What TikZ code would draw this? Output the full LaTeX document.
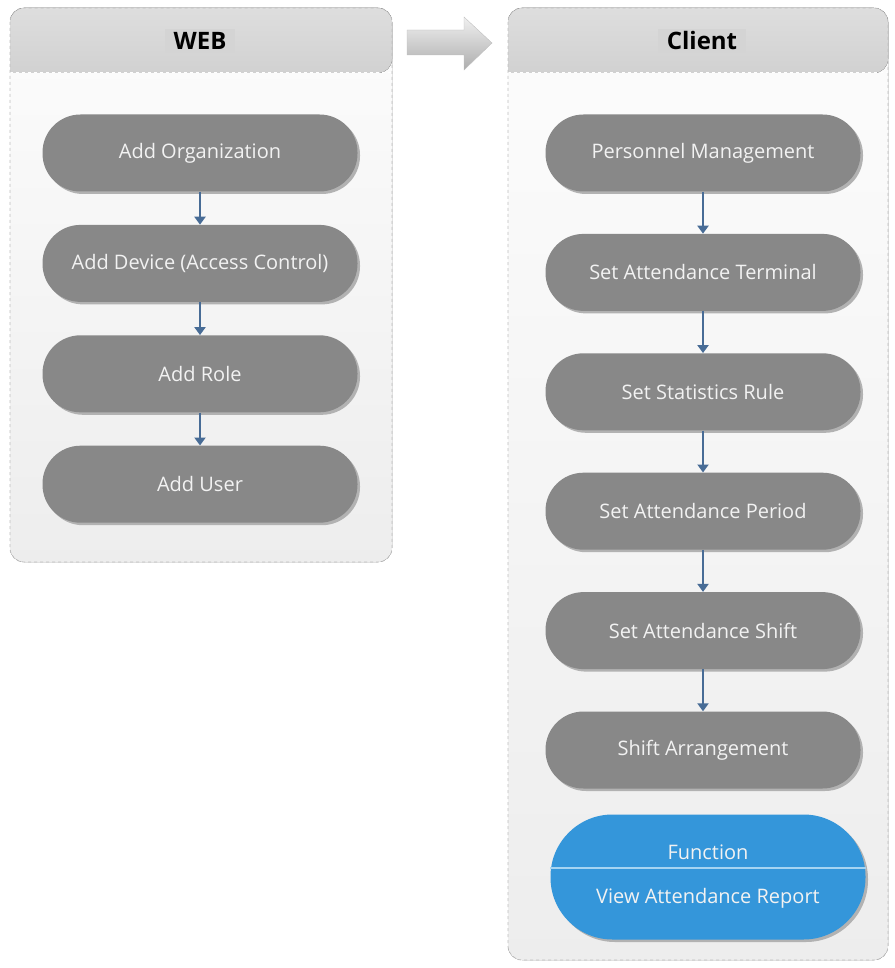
\documentclass[tikz,border=0pt]{standalone}
\usepackage{fontspec}
\setsansfont{Open Sans}
\usepackage{tikz}
\usetikzlibrary{positioning, arrows.meta, shadows}
\definecolor{pillgrey}{RGB}{136,136,136}
\definecolor{edgegrey}{RGB}{190,190,190}
\definecolor{linkblue}{RGB}{72,108,150}
\definecolor{fnblue}{RGB}{52,150,218}
\definecolor{fnline}{RGB}{165,212,242}

\begin{document}
\begin{tikzpicture}[x=1pt, y=-1pt,
        node distance=33pt,
        every node/.style={font=\sffamily},
        panel/.style={rounded corners=14pt, top color=black!1, bottom color=black!7},
        paneledge/.style={draw=edgegrey, dashed, line width=0.8pt, rounded corners=14pt},
        header/.style={top color=black!13, bottom color=black!18},
        title/.style={fill=black!17, inner xsep=9pt, inner ysep=3pt, text=black, font=\sffamily\bfseries\fontsize{24}{28}\selectfont},
        pill/.style={rectangle, fill=pillgrey, rounded corners=38pt, minimum width=315pt, minimum height=77pt, text=white!95!black, font=\sffamily\fontsize{20}{24}\selectfont, drop shadow={shadow xshift=2.5pt, shadow yshift=-2.5pt, fill=black!30, opacity=1}},
        fnpill/.style={pill, fill=fnblue, minimum height=125pt, rounded corners=62pt},
        fntext/.style={text=white!95!black, font=\sffamily\fontsize{20}{24}\selectfont},
        link/.style={-{Triangle[width=11pt, length=8pt]}, line width=2.2pt, linkblue}
    ]
        \useasboundingbox (0,0) rectangle (894,968);

        % Panels
        \fill[panel] (10,8) rectangle (392,562);
        \fill[header] (10,73) {[rounded corners=14pt] -- (10,8) -- (392,8) -- (392,73)} -- cycle;
        \draw[white, dashed, line width=1pt] (10,73) -- (392,73);
        \draw[paneledge] (10,8) rectangle (392,562);

        \fill[panel] (508,8) rectangle (888,960);
        \fill[header] (508,73) {[rounded corners=14pt] -- (508,8) -- (888,8) -- (888,73)} -- cycle;
        \draw[white, dashed, line width=1pt] (508,73) -- (888,73);
        \draw[paneledge] (508,8) rectangle (888,960);

        % Block arrow between panels
        \shade[top color=black!6, bottom color=black!32, draw=black!25] (407,30) -- (464,30) -- (464,17) -- (492,43) -- (464,70) -- (464,55) -- (407,55) -- cycle;

        % Titles
        \node[title] (webtitle) at (200,41) {WEB};
        \node[title] (clienttitle) at (702,41) {Client};

        % Nodes
        \node[pill] (org) at (200,153) {Add Organization};
        \node[pill, below=of org] (device) {Add Device (Access Control)};
        \node[pill, below=of device] (role) {Add Role};
        \node[pill, below=of role] (user) {Add User};

        \begin{scope}[node distance=42pt]
        \node[pill] (personnel) at (703,153) {Personnel Management};
        \node[pill, below=of personnel] (terminal) {Set Attendance Terminal};
        \node[pill, below=of terminal] (rule) {Set Statistics Rule};
        \node[pill, below=of rule] (period) {Set Attendance Period};
        \node[pill, below=of period] (shift) {Set Attendance Shift};
        \node[pill, below=of shift] (arrange) {Shift Arrangement};
        \end{scope}

        \node[fnpill] (fn) at (708,877) {};
        \draw[fnline, line width=1.2pt] (fn.west |- 0,868) -- (fn.east |- 0,868);
        \node[fntext] (fnhead) at (708,852) {Function};
        \node[fntext] (fnbody) at (708,898) {View Attendance Report};

        % Connections
        \draw[link] (org) -- (device);
        \draw[link] (device) -- (role);
        \draw[link] (role) -- (user);
        \draw[link] (personnel) -- (terminal);
        \draw[link] (terminal) -- (rule);
        \draw[link] (rule) -- (period);
        \draw[link] (period) -- (shift);
        \draw[link] (shift) -- (arrange);

    \end{tikzpicture}
\end{document}
